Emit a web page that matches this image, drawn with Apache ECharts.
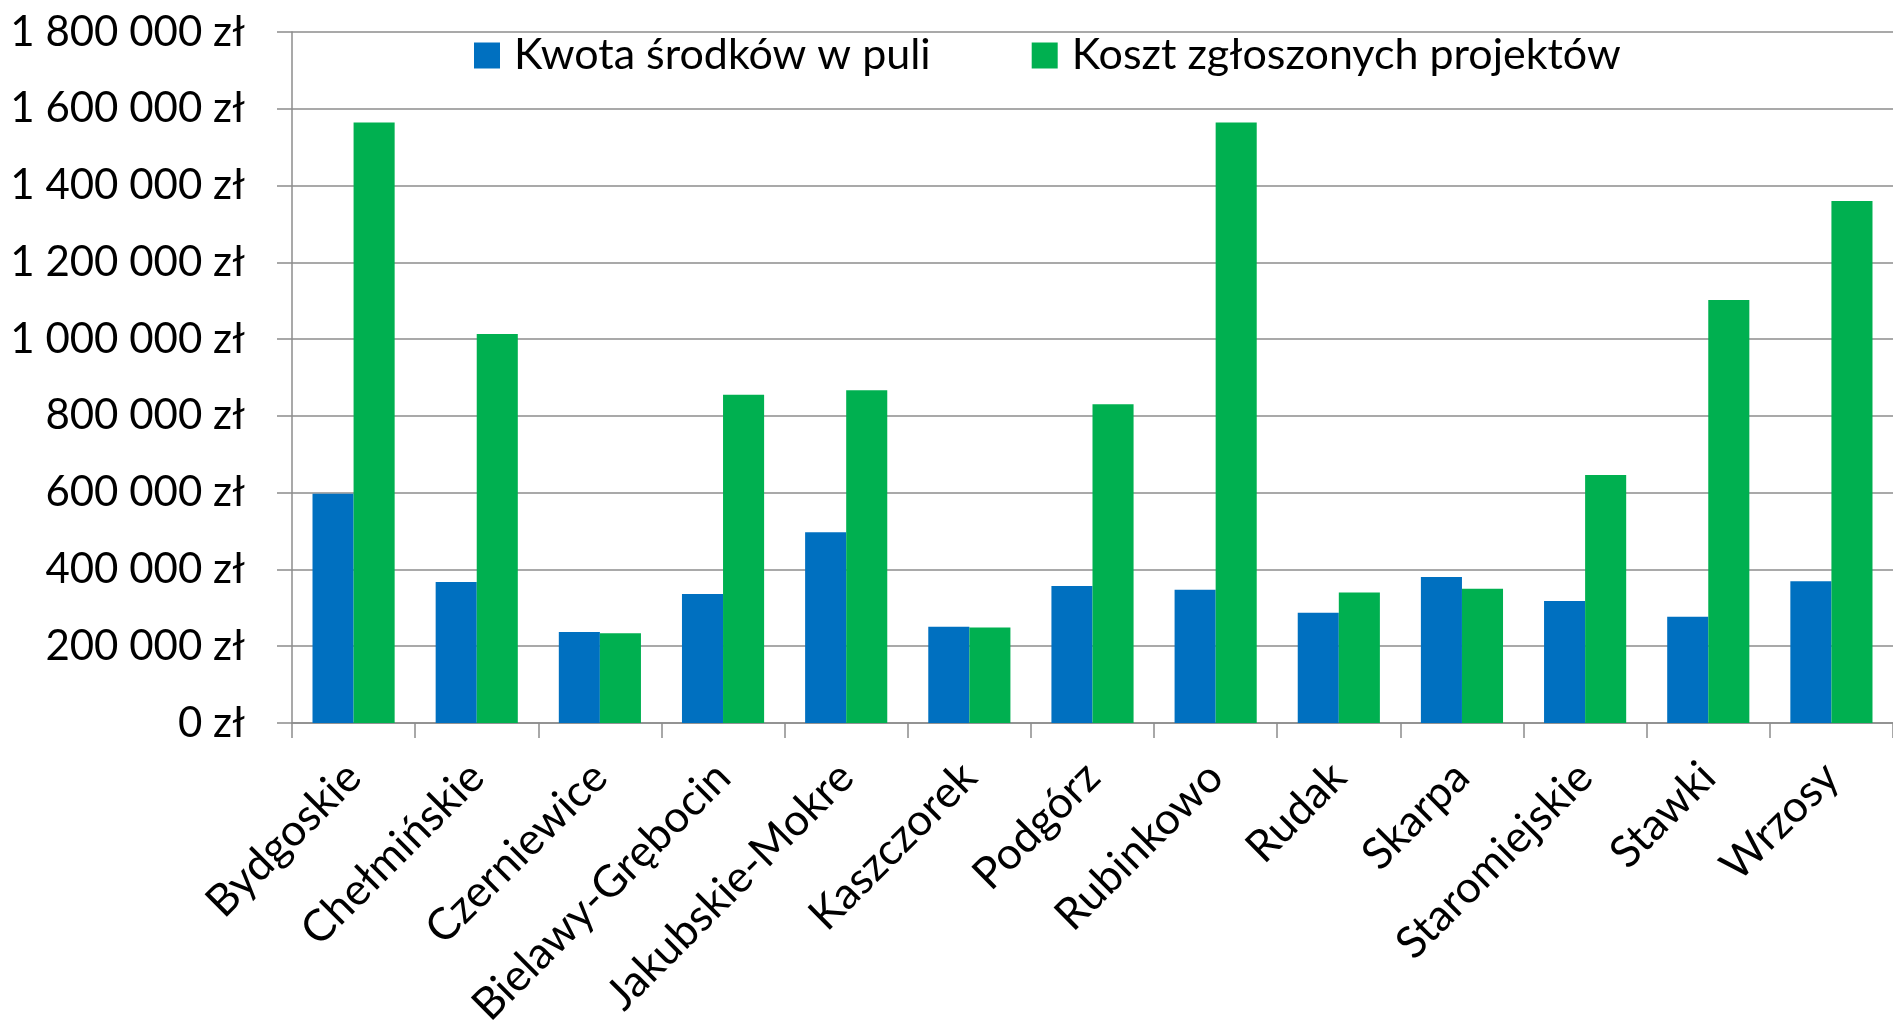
<!DOCTYPE html>
<html>
<head>
<meta charset="utf-8">
<script src="https://cdn.jsdelivr.net/npm/echarts@6/dist/echarts.min.js"></script>
<style>
html,body{margin:0;padding:0;background:#fff;}
#c{width:1893px;height:1025px;}
</style>
</head>
<body>
<div id="c"></div>
<script>
const categories = ['Bydgoskie','Chełmińskie','Czerniewice','Bielawy-Grębocin','Jakubskie-Mokre','Kaszczorek','Podgórz','Rubinkowo','Rudak','Skarpa','Staromiejskie','Stawki','Wrzosy'];
const seriesNames = ['Kwota środków w puli','Koszt zgłoszonych projektów'];
const kwota = [597000, 367000, 237000, 336000, 497000, 251000, 357000, 347000, 287000, 380000, 318000, 277000, 369000];
const koszt = [1564000, 1013000, 234000, 855000, 867000, 249000, 830000, 1564000, 340000, 350000, 646000, 1102000, 1360000];
const yTicks = {min: 0, max: 1800000, interval: 200000};

function fmt(v){
  const s = String(Math.round(v));
  return s.replace(/\B(?=(\d{3})+(?!\d))/g, ' ') + ' zł';
}

const chart = echarts.init(document.getElementById('c'), null, {renderer:'canvas'});
const font = 'Lato';
chart.setOption({
  animation: false,
  backgroundColor: '#fff',
  color: ['#0070C0','#00B050'],
  legend: {
    left: 469, top: 29,
    itemWidth: 26, itemHeight: 26, itemGap: 101,
    icon: 'rect',
    textStyle: {fontFamily: font, fontSize: 43, color: '#000', padding: [0,0,0,9]},
    data: seriesNames
  },
  grid: {left: 292, right: 0, top: 32, bottom: 302, containLabel: false, outerBoundsMode: 'none'},
  xAxis: {
    type: 'category',
    data: categories,
    axisLine: {lineStyle: {color: '#8c8c8c', width: 1.5}},
    axisTick: {show: true, length: 15, lineStyle: {color: '#8c8c8c', width: 1.5}},
    axisLabel: {rotate: 45, interval: 0, margin: 47, fontFamily: font, fontSize: 44, color: '#000'}
  },
  yAxis: {
    type: 'value',
    min: yTicks.min, max: yTicks.max, interval: yTicks.interval,
    axisLine: {show: true, lineStyle: {color: '#8c8c8c', width: 1.5}},
    axisTick: {show: true, length: 15, lineStyle: {color: '#8c8c8c', width: 1.5}},
    splitLine: {show: true, lineStyle: {color: '#8c8c8c', width: 1.5}},
    axisLabel: {margin: 47, fontFamily: font, fontSize: 42, color: '#000', formatter: fmt}
  },
  series: [
    {name: seriesNames[0], type: 'bar', data: kwota, barGap: '0%', barCategoryGap: '33.3%'},
    {name: seriesNames[1], type: 'bar', data: koszt, barGap: '0%', barCategoryGap: '33.3%'}
  ]
});
</script>
</body>
</html>
